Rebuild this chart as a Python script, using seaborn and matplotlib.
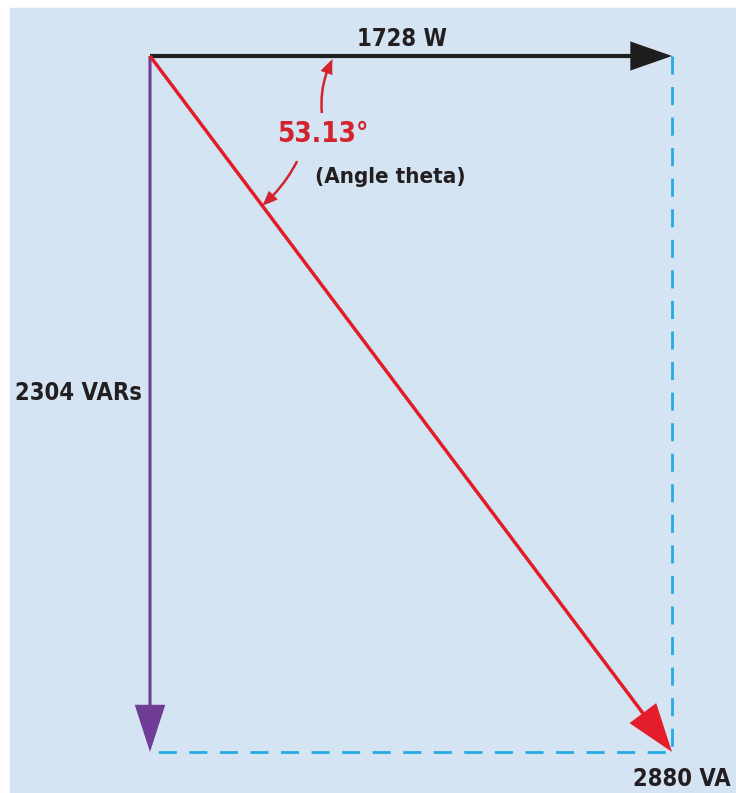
import numpy as np
import pandas as pd
import matplotlib
matplotlib.use("Agg")
import matplotlib.pyplot as plt
from matplotlib.patches import Rectangle
import seaborn as sns

# power triangle values
true_power = 1728      # W
reactive_power = 2304  # VARs
apparent_power = 2880  # VA
angle_theta = 53.13    # degrees

vec_names = ["W", "VARs", "VA"]
vec_x = [true_power, 0, true_power]
vec_y = [0, -reactive_power, -reactive_power]

# dashed projection lines (closing the rectangle)
proj_x = [true_power, true_power, 0]
proj_y = [0, -reactive_power, -reactive_power]

sns.set_theme(style="white")
plt.rcParams['font.family'] = ['DejaVu Sans']
plt.rcParams['font.stretch'] = 'condensed'

fig = plt.figure(figsize=(7.36, 7.93), dpi=100)
fig.patch.set_facecolor('white')
fig.add_artist(Rectangle((10/736, 0), 726/736, 785/793, transform=fig.transFigure,
                         color='#d4e4f3', zorder=-1))
ax = fig.add_axes([0, 0, 1, 1])
ax.set_facecolor('none')
ax.axis('off')

# pixel scale of the drawing
s = 522 / true_power
ax.set_xlim(-150/s, (736-150)/s)
ax.set_ylim(-(793-56)/s, 56/s)

# dashed cyan lines
df = pd.DataFrame({"x": proj_x, "y": proj_y})
sns.lineplot(data=df, x="x", y="y", sort=False, estimator=None, ax=ax,
             color='#25aae1', lw=2, dashes=False, zorder=1)
ax.lines[-1].set_linestyle((0, (6.5, 4.5)))

# vectors
colors = {"W": '#1e1e1e', "VARs": '#6f3d96', "VA": '#e31e2a'}
heads = {"W": (30, 21, 3), "VARs": (34, 22, 2.2), "VA": (35, 24, 2.5)}
for name, x, y in zip(vec_names, vec_x, vec_y):
    hl, hw, w = heads[name]
    ax.annotate("", xy=(x, y), xytext=(0, 0),
                arrowprops=dict(color=colors[name], width=w, headwidth=hw,
                                headlength=hl, shrink=0, lw=0), zorder=3)

txt = '#231f20'
red = '#d2232f'
fw = 'bold'
ax.text(834, 33, f"{true_power} W", ha='center', va='baseline',
        fontsize=17, fontweight=fw, color=txt)
ax.text(-26, -1139, f"{reactive_power} VARs", ha='right', va='baseline',
        fontsize=17, fontweight=fw, color=txt)
ax.text(1600, -2417, f"{apparent_power} VA", ha='left', va='baseline',
        fontsize=17, fontweight=fw, color=txt)
ax.text(573, -285, f"{angle_theta}°", ha='center', va='baseline',
        fontsize=20, fontweight=fw, color=red)
ax.text(546, -420, "(Angle theta)", ha='left', va='baseline',
        fontsize=16, fontweight=fw, color=txt)

# small angle arrows
t1 = 0.35
ax.annotate("", xy=(t1*true_power, -10), xytext=(569, -189),
            arrowprops=dict(color=red, width=1.8, headwidth=9, headlength=11,
                            shrink=0, lw=0, connectionstyle="arc3,rad=-0.15"), zorder=4)
t2 = 0.215
ax.annotate("", xy=(t2*true_power, -t2*reactive_power), xytext=(487, -348),
            arrowprops=dict(color=red, width=1.8, headwidth=9, headlength=11,
                            shrink=0, lw=0, connectionstyle="arc3,rad=-0.1"), zorder=4)

fig.savefig("out.png", dpi=100)
